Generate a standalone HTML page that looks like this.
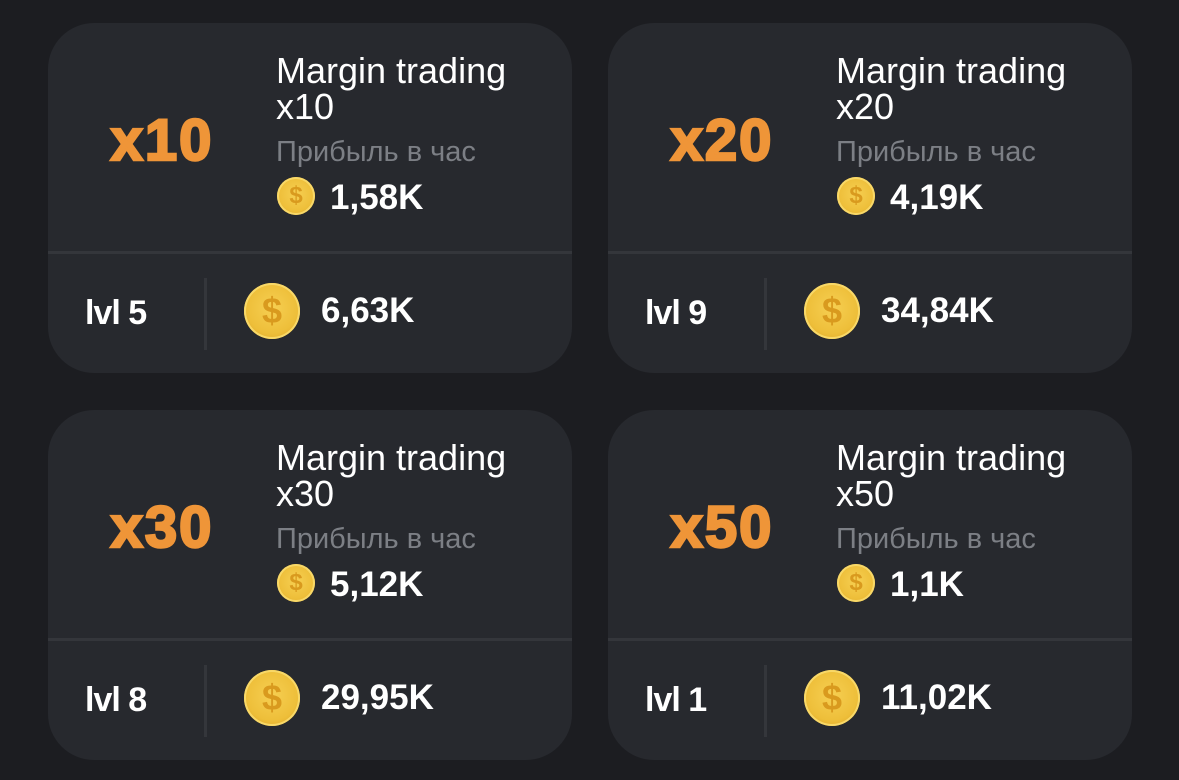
<!DOCTYPE html>
<html><head><meta charset="utf-8"><style>
body{margin:0;width:1179px;height:780px;background:#1c1d21;font-family:"Liberation Sans",sans-serif;overflow:hidden;position:relative}
.c{position:absolute;width:524px;height:350px;background:#27292e;border-radius:46px;overflow:hidden}
.div{position:absolute;left:0;right:0;top:228px;height:3px;background:#34363b}
.big{position:absolute;left:50px;width:128px;text-align:center;top:88px;font-size:58px;font-weight:900;color:#ef9538;letter-spacing:2px;line-height:60px;-webkit-text-stroke:2.5px #ef9538}
.t{position:absolute;left:228px;top:30px;color:#fff;font-size:36px;line-height:36px}
.s{position:absolute;left:228px;top:113px;color:#7c7f85;font-size:29px}
.v{position:absolute;left:282px;top:155px;color:#fff;font-size:35px;font-weight:bold}
.coin{position:absolute;border-radius:50%;background:radial-gradient(circle at 50% 45%,#f6cf52 0,#eebf3a 60%,#d99e22 100%);box-shadow:inset 0 0 0 2px #f8d868;color:#d99a1e;font-weight:bold;text-align:center}
.sc{left:229px;top:154px;width:38px;height:38px;font-size:24px;line-height:38px}
.bc{left:196px;top:260px;width:56px;height:56px;font-size:36px;line-height:56px}
.lv{position:absolute;left:37px;top:271px;color:#fff;font-size:34px;font-weight:bold;letter-spacing:-1px}
.vd{position:absolute;left:156px;top:255px;width:3px;height:72px;background:#34363b}
.bv{position:absolute;left:273px;top:268px;color:#fff;font-size:35px;font-weight:bold}
</style></head><body>
<div class="c" style="left:48px;top:23px"><div class="div"></div><div class="big">x10</div><div class="t">Margin trading<br>x10</div><div class="s">Прибыль в час</div><div class="coin sc">$</div><div class="v">1,58K</div><div class="lv">lvl 5</div><div class="vd"></div><div class="coin bc">$</div><div class="bv">6,63K</div></div>
<div class="c" style="left:608px;top:23px"><div class="div"></div><div class="big">x20</div><div class="t">Margin trading<br>x20</div><div class="s">Прибыль в час</div><div class="coin sc">$</div><div class="v">4,19K</div><div class="lv">lvl 9</div><div class="vd"></div><div class="coin bc">$</div><div class="bv">34,84K</div></div>
<div class="c" style="left:48px;top:410px"><div class="div"></div><div class="big">x30</div><div class="t">Margin trading<br>x30</div><div class="s">Прибыль в час</div><div class="coin sc">$</div><div class="v">5,12K</div><div class="lv">lvl 8</div><div class="vd"></div><div class="coin bc">$</div><div class="bv">29,95K</div></div>
<div class="c" style="left:608px;top:410px"><div class="div"></div><div class="big">x50</div><div class="t">Margin trading<br>x50</div><div class="s">Прибыль в час</div><div class="coin sc">$</div><div class="v">1,1K</div><div class="lv">lvl 1</div><div class="vd"></div><div class="coin bc">$</div><div class="bv">11,02K</div></div>
</body></html>
